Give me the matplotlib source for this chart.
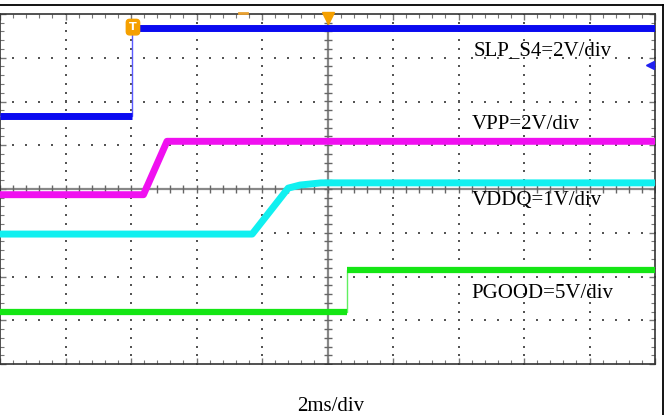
import matplotlib
matplotlib.use('Agg')
import matplotlib.pyplot as plt
import numpy as np
from matplotlib.lines import Line2D

# траектории (единицы: деления осциллографа, x 0..10, y -4..4)
slp_t = [0.0, 2.02, 2.02, 10.0]
slp_v = [1.67, 1.67, 3.68, 3.68]

vpp_t = [0.0, 2.19, 2.55, 10.0]
vpp_v = [-0.13, -0.13, 1.09, 1.09]

vddq_t = [0.0, 3.85, 4.40, 4.58, 4.90, 10.0]
vddq_v = [-1.03, -1.03, 0.02, 0.09, 0.14, 0.14]

pgood_t = [0.0, 5.30, 5.30, 10.0]
pgood_v = [-2.81, -2.81, -1.85, -1.85]

labels = ['SLP_S4=2V/div', 'VPP=2V/div', 'VDDQ=1V/div', 'PGOOD=5V/div']
time_label = '2ms/div'

plt.rcParams['font.family'] = ['Liberation Serif', 'DejaVu Serif']

fig = plt.figure(figsize=(6.66, 4.15), dpi=100)
W, H = 666, 415
ax = fig.add_axes([0.0, (H - 364) / H, 655 / W, 350 / H])
ax.set_xlim(0, 10)
ax.set_ylim(-4, 4)

# рамка и засечки по краям
for s in ax.spines.values():
    s.set_color('#333333')
    s.set_linewidth(1.2)
ax.set_xticks(np.arange(0, 11, 1))
ax.set_yticks(np.arange(-4, 5, 1))
ax.set_xticks(np.arange(0, 10.01, 0.2), minor=True)
ax.set_yticks(np.arange(-4, 4.01, 0.2), minor=True)
ax.tick_params(which='both', direction='in', top=True, right=True,
               labelbottom=False, labelleft=False, color='#777777')
ax.tick_params(which='major', length=4, width=1)
ax.tick_params(which='minor', length=3, width=0.8)

# точечная сетка
sub_x = np.arange(0, 10.01, 0.2)
sub_y = np.arange(-4, 4.01, 0.2)
for gx in range(1, 10):
    if gx == 5:
        continue
    ax.scatter(np.full_like(sub_y, gx), sub_y, s=0.9, marker='s', color='#555555', lw=0, zorder=1)
for gy in range(-3, 4):
    if gy == 0:
        continue
    ax.scatter(sub_x, np.full_like(sub_x, gy), s=0.9, marker='s', color='#555555', lw=0, zorder=1)

# центральные оси
ax.axhline(0, color='#888888', lw=1.6, zorder=1)
ax.axvline(5, color='#888888', lw=1.6, zorder=1)
ax.plot(sub_x, np.zeros_like(sub_x), ls='none', marker='|', ms=6, mew=1, color='#666666', zorder=1)
ax.plot(np.full_like(sub_y, 5), sub_y, ls='none', marker='_', ms=6, mew=1, color='#666666', zorder=1)

# сигналы
def step_trace(t, v, color, edge_color, lw):
    ax.plot(t, v, color=edge_color, lw=1, zorder=3)
    ax.plot(t[:2], v[:2], color=color, lw=lw, solid_capstyle='butt', zorder=3)
    ax.plot(t[2:], v[2:], color=color, lw=lw, solid_capstyle='butt', zorder=3)

step_trace(slp_t, slp_v, '#0a0af0', '#5a5aff', 5)
ax.plot(vpp_t, vpp_v, color='#f010f0', lw=5, solid_capstyle='butt', zorder=3)
ax.plot(vddq_t, vddq_v, color='#10f0f0', lw=5, solid_capstyle='butt', zorder=3)
step_trace(pgood_t, pgood_v, '#14e614', '#60f060', 4.5)

# маркеры осциллографа
ax.text(2.03, 3.70, 'T', color='white', fontsize=8, fontweight='bold', family='DejaVu Sans',
        ha='center', va='center', zorder=5,
        bbox=dict(boxstyle='round,pad=0.25,rounding_size=0.3', fc='#f5a000', ec='#f5a000'))
ax.plot([5], [3.9], marker='v', ms=8, color='#f5a000', clip_on=False, zorder=5)
ax.plot([3.65, 3.77], [4.02, 4.02], color='#e8a030', lw=2, clip_on=False, zorder=5)
ax.plot([9.93], [2.83], marker='<', ms=6, color='#2020f0', clip_on=False, zorder=5)

# подписи
px = lambda x: x / 65.5
py = lambda y: (189 - y) / 43.75
ax.text(px(474), py(51), labels[0], fontsize=15, ha='left', va='center', zorder=6)
ax.text(px(472), py(124), labels[1], fontsize=15, ha='left', va='center', zorder=6)
ax.text(px(472), py(200), labels[2], fontsize=15, ha='left', va='center', zorder=6)
ax.text(px(471), py(293), labels[3], fontsize=15, ha='left', va='center', zorder=6)
fig.text(297 / W, 1 - 406 / H, time_label, fontsize=15, ha='left', va='center')

# внешняя рамка
fig.add_artist(Line2D([0, 663 / W], [1 - 5 / H] * 2, color='black', lw=1.3))
fig.add_artist(Line2D([663 / W] * 2, [1 - 5 / H, 0], color='black', lw=1.3))

plt.savefig('out.png', dpi=100)
